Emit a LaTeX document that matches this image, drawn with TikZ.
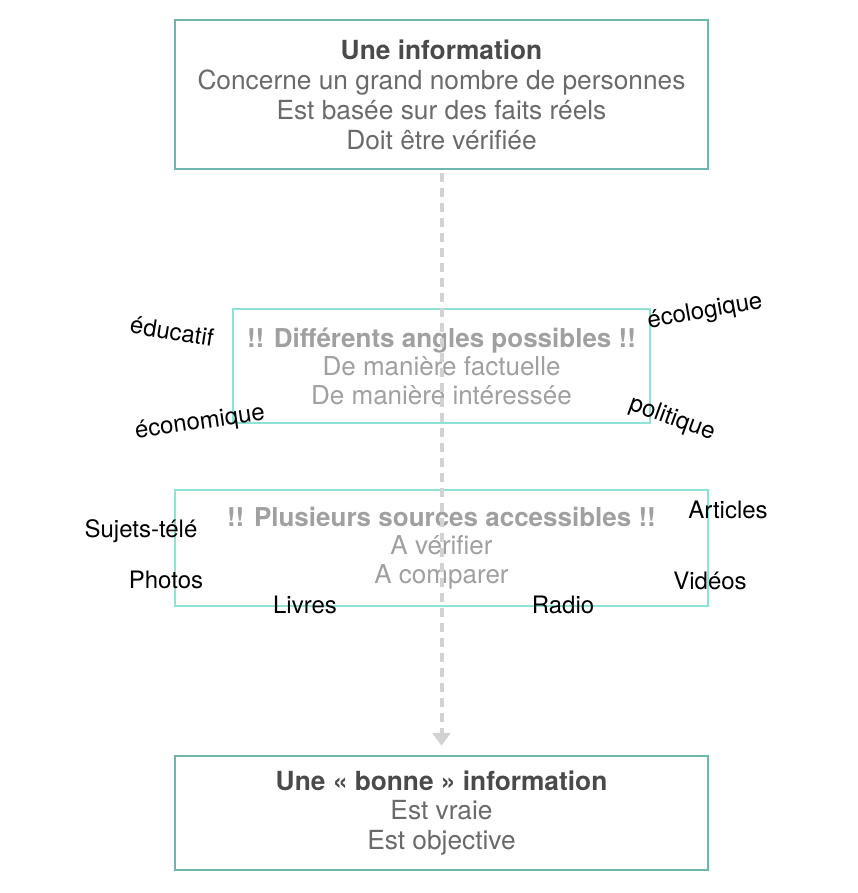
\documentclass[tikz,border=0pt]{standalone}
\usepackage{fontspec}
\setmainfont{TeX Gyre Heros}
\usepackage{xcolor}
\usetikzlibrary{arrows.meta,positioning}

\definecolor{tealbord}{HTML}{6DB5B1}
\definecolor{aquabord}{HTML}{8EE3D8}
\definecolor{txtdark}{HTML}{4A4A4A}
\definecolor{txtgray}{HTML}{6A6A6A}
\definecolor{txtlight}{HTML}{A0A0A0}
\definecolor{flowgray}{HTML}{D2D2D2}

\begin{document}
\begin{tikzpicture}[x=1pt,y=-1pt,
  mainbox/.style={draw=tealbord, line width=2.5pt, minimum width=533pt, align=center,
    text=txtgray, font=\fontsize{26.3}{30}\selectfont},
  anglebox/.style={draw=aquabord, line width=1.6pt, align=center,
    text=txtlight, font=\fontsize{26}{28.5}\selectfont},
  tag/.style={text=black, font=\fontsize{24}{26}\selectfont, inner sep=0pt},
  flow/.style={flowgray, line width=4pt, dash pattern=on 9pt off 6pt,
    -{Triangle[length=13pt,width=18pt]}}
]
\useasboundingbox (0,0) rectangle (858,893);

% the four boxes
\node[mainbox, minimum height=149pt] (info) at (441.5,94.5)
  {\textcolor{txtdark}{\textbf{Une information}}\\Concerne un grand nombre de personnes\\Est basée sur des faits réels\\Doit être vérifiée};
\node[anglebox, minimum width=417pt, minimum height=114pt] (angles) at (441.5,366)
  {\textbf{!! Différents angles possibles !!}\\De manière factuelle\\De manière intéressée};
\node[anglebox, minimum width=533pt, minimum height=116pt] (sources) at (441.5,548)
  {\textbf{!! Plusieurs sources accessibles !!}\\A vérifier\\A comparer};
\node[mainbox, minimum height=114pt, font=\fontsize{26.3}{29.5}\selectfont] (bonne) at (441.5,813)
  {\textcolor{txtdark}{\textbf{Une « bonne » information}}\\Est vraie\\Est objective};

\draw[flow, shorten <=3pt, shorten >=9pt] (info.south) -- (bonne.north);

% angles around the middle box
\foreach \t/\x/\y/\r [count=\i] in {éducatif/172/331/-9, écologique/705/312/10,
    économique/200/423/8, politique/672/419/-20}
  \node[tag, rotate=\r] (angle\i) at (\x,\y) {\t};

% sources
\foreach \t/\x/\y [count=\i] in {Sujets-télé/141/531, Photos/166/580, Livres/305/605,
    Radio/563/605, Articles/728/510, Vidéos/710/581}
  \node[tag] (src\i) at (\x,\y) {\t};
\end{tikzpicture}
\end{document}
